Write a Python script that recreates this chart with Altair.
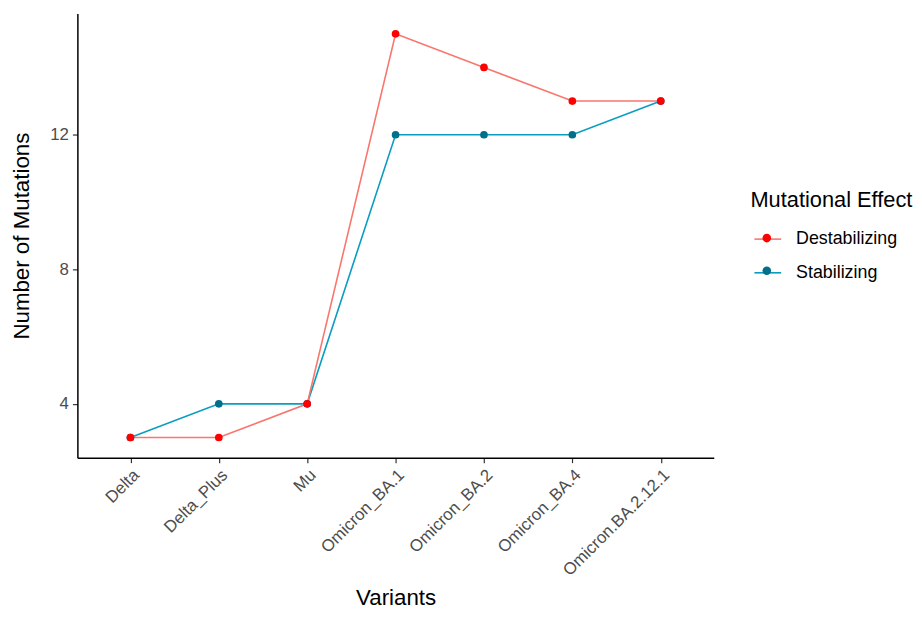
import altair as alt
import pandas as pd

variants = ["Delta", "Delta_Plus", "Mu", "Omicron_BA.1", "Omicron_BA.2",
            "Omicron_BA.4", "Omicron.BA.2.12.1"]
destabilizing = [3, 3, 4, 15, 14, 13, 13]
stabilizing = [3, 4, 4, 12, 12, 12, 13]
effects = ["Destabilizing", "Stabilizing"]
line_colors = ["#F8766D", "#0A9DC0"]
point_colors = ["#FF0000", "#00708A"]
y_ticks = [4, 8, 12]

rows = []
for v, s in zip(variants, stabilizing):
    rows.append({"Variants": v, "Mutations": s, "Effect": "Stabilizing"})
for v, d in zip(variants, destabilizing):
    rows.append({"Variants": v, "Mutations": d, "Effect": "Destabilizing"})
df = pd.DataFrame(rows)

FONT = "Liberation Sans"
LINE_PATH = "M-1,0L1,0"
CIRCLE_PATH = "M-0.32,0A0.32,0.32,0,1,1,0.32,0A0.32,0.32,0,1,1,-0.32,0Z"

x_enc = alt.X("Variants:N", sort=variants,
              scale=alt.Scale(type="point", padding=0.6),
              axis=alt.Axis(title="Variants", labelAngle=315, labelAlign="right",
                            labelBaseline="top", labelFontSize=17, labelColor="#4D4D4D",
                            titleFontSize=22.5, titleFontWeight="normal", titleColor="#000000",
                            titleY=141, titleBaseline="middle",
                            domainColor="#000000", domainWidth=1.5, tickColor="#333333",
                            tickSize=5, tickWidth=1.2, labelPadding=4, grid=False,
                            labelFont=FONT, titleFont=FONT))
y_enc = alt.Y("Mutations:Q",
              scale=alt.Scale(domain=[2.4, 15.6], nice=False, zero=False),
              axis=alt.Axis(title="Number of Mutations", values=y_ticks, labelFontSize=17,
                            labelColor="#4D4D4D", titleFontSize=22.5, titleFontWeight="normal",
                            titleColor="#000000", titleX=-56, titleBaseline="middle",
                            domainColor="#000000", domainWidth=1.5, tickColor="#333333",
                            tickSize=5, tickWidth=1.2, labelPadding=4, grid=False,
                            labelFont=FONT, titleFont=FONT))

legend_common = dict(orient="none", legendX=679, legendY=178,
                     titleFontSize=22, titleFontWeight="normal", titleColor="#000000",
                     titleFont=FONT, labelFont=FONT, labelFontSize=18, labelColor="#000000",
                     symbolSize=729, symbolOffset=3, titlePadding=13, rowPadding=10,
                     labelOffset=14, padding=0)

lines = alt.Chart(df).mark_line(strokeWidth=1.6).encode(
    x=x_enc, y=y_enc,
    stroke=alt.Stroke("Effect:N", scale=alt.Scale(domain=effects, range=line_colors),
                      legend=alt.Legend(title="Mutational Effect", symbolType=LINE_PATH,
                                        symbolStrokeWidth=1.6, **legend_common)),
)
points = alt.Chart(df).mark_point(filled=True, size=60, opacity=1).encode(
    x=x_enc, y=y_enc,
    fill=alt.Fill("Effect:N", scale=alt.Scale(domain=effects, range=point_colors),
                  legend=alt.Legend(title=" ", labelExpr="''", symbolType=CIRCLE_PATH,
                                    symbolStrokeWidth=0, **legend_common)),
)

chart = alt.layer(lines, points).resolve_scale(stroke="independent", fill="independent").properties(
    width=642, height=448,
    autosize=alt.AutoSizeParams(type="none"),
    padding={"left": 70, "top": 3, "right": 202, "bottom": 150},
).configure(background="#FFFFFF").configure_view(stroke=None)

chart.save("out.html", embed_options={"renderer": "svg", "actions": False})
